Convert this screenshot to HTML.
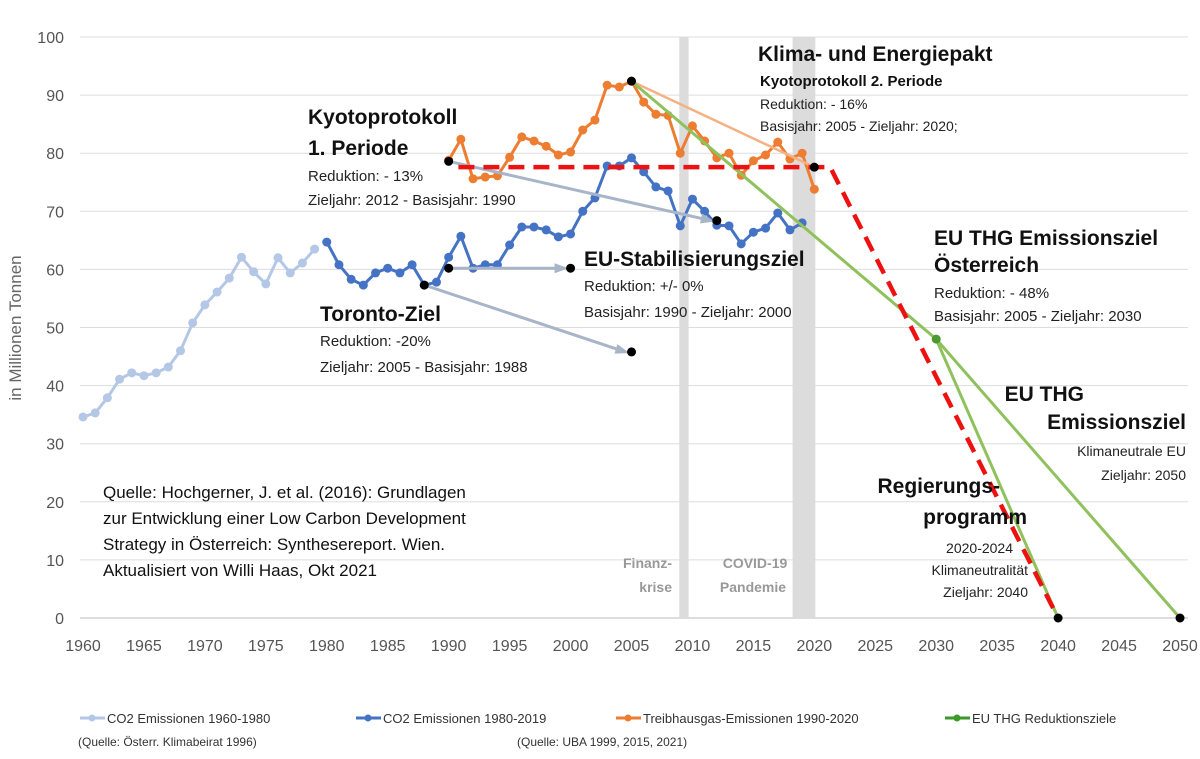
<!DOCTYPE html>
<html><head><meta charset="utf-8"><style>
html,body{margin:0;padding:0;background:#fff;}
svg text{font-family:"Liberation Sans",sans-serif;}
</style></head><body>
<svg id="c" width="1200" height="754" viewBox="0 0 1200 754" xmlns="http://www.w3.org/2000/svg">
<g id="grid"></g>
<g id="bands"></g>
<g id="ticks"></g>
<g id="series"></g>
<g id="notes" font-family="Liberation Sans, sans-serif">
<text x="308" y="124" font-size="21" font-weight="bold" fill="#111">Kyotoprotokoll</text>
<text x="308" y="155" font-size="21" font-weight="bold" fill="#111">1. Periode</text>
<text x="308" y="181" font-size="15" fill="#222">Reduktion: - 13%</text>
<text x="308" y="205" font-size="15" fill="#222">Zieljahr: 2012 - Basisjahr: 1990</text>
<text x="320" y="321" font-size="21" font-weight="bold" fill="#111">Toronto-Ziel</text>
<text x="320" y="346" font-size="15" fill="#222">Reduktion: -20%</text>
<text x="320" y="372" font-size="15" fill="#222">Zieljahr: 2005 - Basisjahr: 1988</text>
<text x="584" y="266" font-size="21" font-weight="bold" fill="#111">EU-Stabilisierungsziel</text>
<text x="584" y="291" font-size="15" fill="#222">Reduktion: +/- 0%</text>
<text x="584" y="317" font-size="15" fill="#222">Basisjahr: 1990 - Zieljahr: 2000</text>
<text x="758" y="61" font-size="21" font-weight="bold" fill="#111">Klima- und Energiepakt</text>
<text x="760" y="86" font-size="15" font-weight="bold" fill="#111">Kyotoprotokoll 2. Periode</text>
<text x="760" y="109" font-size="14" fill="#222">Reduktion: - 16%</text>
<text x="760" y="131" font-size="14" fill="#222">Basisjahr: 2005  - Zieljahr: 2020;</text>
<text x="934" y="245" font-size="21" font-weight="bold" fill="#111">EU THG Emissionsziel</text>
<text x="934" y="272" font-size="21" font-weight="bold" fill="#111">Österreich</text>
<text x="934" y="298" font-size="15" fill="#222">Reduktion: - 48%</text>
<text x="934" y="321" font-size="15" fill="#222">Basisjahr: 2005 - Zieljahr: 2030</text>
<text x="1084" y="401" font-size="21" font-weight="bold" fill="#111" text-anchor="end">EU THG</text>
<text x="1186" y="429" font-size="21" font-weight="bold" fill="#111" text-anchor="end">Emissionsziel</text>
<text x="1186" y="456" font-size="14" fill="#222" text-anchor="end">Klimaneutrale EU</text>
<text x="1186" y="480" font-size="14" fill="#222" text-anchor="end">Zieljahr: 2050</text>
<text x="1000" y="493" font-size="21" font-weight="bold" fill="#111" text-anchor="end">Regierungs-</text>
<text x="1027" y="524" font-size="21" font-weight="bold" fill="#111" text-anchor="end">programm</text>
<text x="1013" y="553" font-size="14" fill="#222" text-anchor="end">2020-2024</text>
<text x="1028" y="575" font-size="14" fill="#222" text-anchor="end">Klimaneutralität</text>
<text x="1028" y="597" font-size="14" fill="#222" text-anchor="end">Zieljahr: 2040</text>
<text x="672" y="568" font-size="14" font-weight="bold" fill="#999" text-anchor="end">Finanz-</text>
<text x="672" y="592" font-size="14" font-weight="bold" fill="#999" text-anchor="end">krise</text>
<text x="755" y="568" font-size="14" font-weight="bold" fill="#999" text-anchor="middle">COVID-19</text>
<text x="753" y="592" font-size="14" font-weight="bold" fill="#999" text-anchor="middle">Pandemie</text>
<text x="103" y="498" font-size="17" fill="#111">Quelle: Hochgerner, J. et al. (2016): Grundlagen</text>
<text x="103" y="524" font-size="17" fill="#111">zur Entwicklung einer Low Carbon Development</text>
<text x="103" y="550" font-size="17" fill="#111">Strategy in Österreich: Synthesereport. Wien.</text>
<text x="103" y="576" font-size="17" fill="#111">Aktualisiert von Willi Haas, Okt 2021</text>
<text transform="translate(21,328) rotate(-90)" font-size="17" fill="#666" text-anchor="middle">in Millionen Tonnen</text>
</g>
<g id="legend" font-size="13" fill="#333">
<g><line x1="80" y1="718" x2="105" y2="718" stroke="#b4c7e7" stroke-width="3"/><circle cx="92" cy="718" r="3.5" fill="#b4c7e7"/><text x="107" y="723">CO2 Emissionen 1960-1980</text></g>
<g><line x1="356" y1="718" x2="381" y2="718" stroke="#4472c4" stroke-width="3"/><circle cx="368" cy="718" r="3.5" fill="#4472c4"/><text x="383" y="723">CO2 Emissionen 1980-2019</text></g>
<g><line x1="616" y1="718" x2="641" y2="718" stroke="#ed7d31" stroke-width="3"/><circle cx="628" cy="718" r="3.5" fill="#ed7d31"/><text x="643" y="723">Treibhausgas-Emissionen 1990-2020</text></g>
<g><line x1="945" y1="718" x2="970" y2="718" stroke="#3a9a2a" stroke-width="3"/><circle cx="957" cy="718" r="3.5" fill="#3a9a2a"/><text x="972" y="723">EU THG Reduktionsziele</text></g>
<text x="78" y="746" font-size="12">(Quelle: Österr. Klimabeirat 1996)</text>
<text x="517" y="746" font-size="12">(Quelle: UBA 1999, 2015, 2021)</text>
</g>
</svg>
<script>
const yTicks=[0,10,20,30,40,50,60,70,80,90,100];
const xTicks=[1960,1965,1970,1975,1980,1985,1990,1995,2000,2005,2010,2015,2020,2025,2030,2035,2040,2045,2050];
const co2EarlyYears=[1960,1961,1962,1963,1964,1965,1966,1967,1968,1969,1970,1971,1972,1973,1974,1975,1976,1977,1978,1979];
const co2EarlyValues=[34.6,35.3,37.9,41.1,42.2,41.7,42.2,43.2,46,50.8,53.9,56.1,58.5,62.1,59.6,57.5,62,59.4,61.1,63.5];
const co2Start=1980;
const co2Values=[64.7,60.8,58.3,57.3,59.4,60.2,59.4,60.8,57.3,57.8,62.1,65.7,60.2,60.8,60.8,64.2,67.3,67.3,66.8,65.6,66.1,70,72.3,77.8,77.8,79.2,76.8,74.2,73.5,67.5,72.1,70,67.6,67.5,64.4,66.4,67.1,69.7,66.8,68];
const thgStart=1990;
const thgValues=[78.8,82.4,75.6,75.9,76.1,79.3,82.8,82.1,81.2,79.7,80.2,84,85.7,91.7,91.4,92.4,88.8,86.7,86.5,80,84.7,82.1,79.2,80,76.2,78.7,79.7,81.9,79,80,73.8];
const euTargetYears=[2005,2030,2050];
const euTargetValues=[92.4,48,0];
const govTargetYears=[2030,2040];
const govTargetValues=[48,0];
const redYears=[1990.8,2021.3,2040];
const redValues=[77.6,77.6,0];

const X=y=>83+(y-1960)*(1097/90);
const Y=v=>618-v*5.81;
const NS="http://www.w3.org/2000/svg";
function mk(tag,attrs,parent){const e=document.createElementNS(NS,tag);for(const k in attrs)e.setAttribute(k,attrs[k]);document.getElementById(parent).appendChild(e);return e;}

yTicks.forEach(t=>{
  const l=mk('line',{x1:80,x2:1188,y1:Y(t),y2:Y(t),stroke:t===0?'#bbb':'#ddd','stroke-width':1},'grid');
  
  
  const tx=mk('text',{x:64,y:Y(t)+6,'text-anchor':'end','font-size':16,fill:'#555'},'ticks');
  tx.textContent=t;
  
  
});
xTicks.forEach(t=>{
  const tx=mk('text',{x:X(t),y:651,'text-anchor':'middle','font-size':16,fill:'#555'},'ticks');
  tx.textContent=t;
  
  
});
[[2009,2009.6],[2018.3,2020]].forEach((b,i)=>{
  const r=mk('rect',{x:X(b[0])-1,y:37,width:X(b[1])-X(b[0])+2,height:581,fill:'#dcdcdc'},'bands');
  
  
});
function line(xs,vs,color,w,name,dots,extra){
  const p=xs.map((x,i)=>(i?'L':'M')+X(x).toFixed(1)+','+Y(vs[i]).toFixed(1)).join('');
  const attrs={d:p,fill:'none',stroke:color,'stroke-width':w,'stroke-linejoin':'round'};
  Object.assign(attrs,extra||{});
  const e=mk('path',attrs,'series');
  
  
  if(dots)xs.forEach((x,i)=>{
    const c=mk('circle',{cx:X(x),cy:Y(vs[i]),r:4.5,fill:color},'series');
    
    
  });
}
function arrow(x1,v1,x2,v2,name){
  const a=mk('line',{x1:X(x1),y1:Y(v1),x2:X(x2)-6,y2:Y(v2),stroke:'#a8b4c8','stroke-width':3},'series');
  
  
  const ang=Math.atan2(Y(v2)-Y(v1),X(x2)-X(x1));const tx=X(x2)-6,ty=Y(v2);
  const h=mk('polygon',{points:`${tx+4*Math.cos(ang)},${ty+4*Math.sin(ang)} ${tx-10*Math.cos(ang)-5*Math.sin(ang)},${ty-10*Math.sin(ang)+5*Math.cos(ang)} ${tx-10*Math.cos(ang)+5*Math.sin(ang)},${ty-10*Math.sin(ang)-5*Math.cos(ang)}`,fill:'#a8b4c8'},'series');
  
  
}
function dot(x,v,col,name){const c=mk('circle',{cx:X(x),cy:Y(v),r:4.5,fill:col},'series');}

line(co2EarlyYears,co2EarlyValues,'#b4c7e7',3,'co2-1960-1980-line',true);
line(thgValues.map((_,i)=>thgStart+i),thgValues,'#ed7d31',3,'thg-line',true);
line(co2Values.map((_,i)=>co2Start+i),co2Values,'#4472c4',3,'co2-1980-2019-line',true);
line([2005,2020],[thgValues[15],77.6],'#f4b183',2.5,'kyoto2-target-line',false);
arrow(1990,78.6,2012,68.4,'kyoto1-arrow');
arrow(1990,60.2,2000,60.2,'eu-stab-arrow');
arrow(1988,co2Values[8],2005,45.8,'toronto-arrow');
line(euTargetYears,euTargetValues,'#8fc15c',3,'eu-target-line',false);
line(govTargetYears,govTargetValues,'#8fc15c',3,'gov-target-line',false);
line(redYears,redValues,'#ee1111',4.5,'climate-neutral-path',false,{'stroke-dasharray':'16,9'});
dot(1990,78.6,'#000','kyoto1-start');dot(2012,68.4,'#000','kyoto1-target');
dot(1990,60.2,'#000','eu-stab-start');dot(2000,60.2,'#000','eu-stab-target');
dot(1988,co2Values[8],'#000','toronto-start');dot(2005,45.8,'#000','toronto-target');
dot(2005,thgValues[15],'#000','klima-start');dot(2020,77.6,'#000','klima-target');
dot(2030,48,'#4a9a30','eu-2030-target');dot(2040,0,'#000','target-2040');dot(2050,0,'#000','target-2050');
</script>
</body></html>
